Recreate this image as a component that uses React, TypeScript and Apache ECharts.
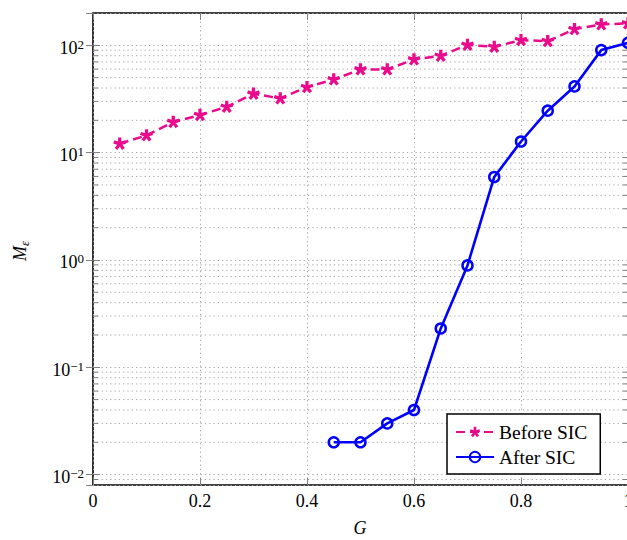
import React, { useEffect, useRef } from "react";
import * as echarts from "echarts";

// G values for each series
const gBefore = [0.05, 0.1, 0.15, 0.2, 0.25, 0.3, 0.35, 0.4, 0.45, 0.5, 0.55, 0.6, 0.65, 0.7, 0.75, 0.8, 0.85, 0.9, 0.95, 1.0];
const beforeSIC = [12.1, 14.5, 19.3, 22.4, 26.7, 35.4, 32.0, 40.8, 48.1, 59.6, 59.6, 73.9, 79.8, 101, 96.8, 111.8, 109.4, 141.5, 156.6, 160];

const gAfter = [0.45, 0.5, 0.55, 0.6, 0.65, 0.7, 0.75, 0.8, 0.85, 0.9, 0.95, 1.0];
const afterSIC = [0.02, 0.02, 0.03, 0.04, 0.23, 0.89, 5.93, 12.7, 24.6, 41.4, 90.2, 105.5];

// axis ranges
const xMin = 0;
const xMax = 1;
const xStep = 0.2;
const yMin = 0.008;
const yMax = 200;

// minor log grid: mantissas 2..9 in every decade inside the range
const minorMantissas = [2, 3, 4, 5, 6, 7, 8, 9];
const decades = [0.001, 0.01, 0.1, 1, 10, 100];

const PINK = "#ea0a8c";
const BLUE = "#0000ff";
const SERIF = "'Liberation Serif', 'Times New Roman', serif";
const GRID_COLOR = "#a8a8a8";
const TICK_COLOR = "#808080";

const minorValues: number[] = [];
decades.forEach((d) =>
  minorMantissas.forEach((m) => {
    const v = +(m * d).toPrecision(3);
    if (v > yMin && v < yMax) minorValues.push(v);
  })
);

// five-armed asterisk marker
function asteriskPath(arms: number, halfWidth: number): string {
  let d = "";
  for (let i = 0; i < arms; i++) {
    const a = -Math.PI / 2 + (i * 2 * Math.PI) / arms;
    const dx = Math.cos(a);
    const dy = Math.sin(a);
    const nx = -dy * halfWidth;
    const ny = dx * halfWidth;
    const pts = [
      [nx, ny],
      [dx + nx, dy + ny],
      [dx - nx, dy - ny],
      [-nx, -ny],
    ];
    d += "M " + pts.map((p) => p.map((v) => (v * 10 + 10).toFixed(3)).join(" ")).join(" L ") + " Z ";
  }
  return "path://" + d;
}

function powLabel(v: number): string {
  const k = Math.round(Math.log10(v));
  const exp = k < 0 ? "\u2212" + -k : String(k);
  return `{b|10}{s|${exp}}`;
}

export default function App() {
  const ref = useRef<HTMLDivElement>(null);

  useEffect(() => {
    if (!ref.current) return;
    const chart = echarts.init(ref.current, undefined, { renderer: "svg" });
    const dotted = { color: GRID_COLOR, width: 1, type: [1.3, 3] as number[] };

    chart.setOption({
      animation: false,
      backgroundColor: "#fff",
      grid: {
        show: true,
        left: 93,
        top: 13,
        width: 535,
        height: 472,
        borderColor: "#000",
        borderWidth: 1.6,
        backgroundColor: "transparent",
      },
      legend: {
        data: ["Before SIC", "After SIC"],
        orient: "vertical",
        left: 447,
        top: 414,
        padding: [8, 13, 7, 8],
        itemWidth: 38,
        itemHeight: 13,
        itemGap: 5,
        borderColor: "#000",
        borderWidth: 1.5,
        borderRadius: 0,
        backgroundColor: "#fff",
        textStyle: { fontFamily: SERIF, fontSize: 19.5, color: "#000" },
      },
      xAxis: [
        {
          type: "value",
          min: xMin,
          max: xMax,
          interval: xStep,
          position: "bottom",
          axisLine: { show: false },
          axisTick: { show: true, inside: true, length: 7, lineStyle: { color: TICK_COLOR } },
          axisLabel: { margin: 7, fontFamily: SERIF, fontSize: 18, color: "#000" },
          splitLine: { show: true, lineStyle: dotted },
        },
        {
          type: "value",
          min: xMin,
          max: xMax,
          interval: xStep,
          position: "top",
          axisLine: { show: false },
          axisTick: { show: true, inside: true, length: 7, lineStyle: { color: TICK_COLOR } },
          axisLabel: { show: false },
          splitLine: { show: false },
        },
      ],
      yAxis: [
        {
          type: "log",
          logBase: 10,
          min: yMin,
          max: yMax,
          position: "left",
          axisLine: { show: false },
          axisTick: { show: true, inside: true, length: 7, lineStyle: { color: TICK_COLOR } },
          axisLabel: {
            showMinLabel: false,
            showMaxLabel: false,
            margin: 9,
            padding: [5, 0, 0, 0],
            formatter: powLabel,
            rich: {
              b: { fontFamily: SERIF, fontSize: 18, lineHeight: 20, color: "#000", verticalAlign: "middle" },
              s: { fontFamily: SERIF, fontSize: 13, lineHeight: 13, color: "#000", verticalAlign: "top" },
            },
          },
          splitLine: { show: true, lineStyle: dotted },
        },
        {
          type: "log",
          logBase: 10,
          min: yMin,
          max: yMax,
          position: "right",
          axisLine: { show: false },
          axisTick: { show: true, inside: true, length: 7, lineStyle: { color: TICK_COLOR } },
          axisLabel: { show: false },
          splitLine: { show: false },
        },
      ],
      graphic: [
        {
          type: "text",
          x: 20,
          y: 251,
          rotation: Math.PI / 2,
          style: {
            text: "{m|M}{e|\u03b5}",
            align: "center",
            verticalAlign: "middle",
            rich: {
              m: { fontFamily: SERIF, fontStyle: "italic", fontSize: 18, lineHeight: 22, fill: "#000", verticalAlign: "middle" },
              e: { fontFamily: SERIF, fontStyle: "italic", fontSize: 13, lineHeight: 13, fill: "#000", verticalAlign: "bottom" },
            },
          },
        },
        {
          type: "text",
          x: 360,
          y: 528,
          style: {
            text: "G",
            fontFamily: SERIF,
            fontStyle: "italic",
            fontSize: 18,
            fill: "#000",
            align: "center",
            verticalAlign: "middle",
          },
        },
      ],
      series: [
        {
          name: "minor grid",
          type: "custom",
          xAxisIndex: 0,
          yAxisIndex: 0,
          silent: true,
          z: 1,
          data: minorValues.map((v) => [xMin, v]),
          encode: { x: 0, y: 1 },
          renderItem: (params: any, api: any) => {
            const cs = params.coordSys;
            const p = api.coord([xMin, api.value(1)]);
            const y = p[1];
            const x0 = cs.x;
            const x1 = cs.x + cs.width;
            return {
              type: "group",
              children: [
                {
                  type: "line",
                  shape: { x1: x0, y1: y, x2: x1, y2: y },
                  style: { stroke: GRID_COLOR, lineWidth: 1, lineDash: [1.3, 3] },
                },
                {
                  type: "line",
                  shape: { x1: x0, y1: y, x2: x0 + 5, y2: y },
                  style: { stroke: TICK_COLOR, lineWidth: 1 },
                },
                {
                  type: "line",
                  shape: { x1: x1 - 5, y1: y, x2: x1, y2: y },
                  style: { stroke: TICK_COLOR, lineWidth: 1 },
                },
              ],
            };
          },
        },
        {
          name: "Before SIC",
          type: "line",
          z: 3,
          data: gBefore.map((g, i) => [g, beforeSIC[i]]),
          symbol: asteriskPath(5, 0.26),
          symbolSize: 13,
          symbolKeepAspect: true,
          lineStyle: { color: PINK, width: 2.5, type: [9, 5] },
          itemStyle: { color: PINK, borderWidth: 0 },
        },
        {
          name: "After SIC",
          type: "line",
          z: 4,
          data: gAfter.map((g, i) => [g, afterSIC[i]]),
          symbol: "circle",
          symbolSize: 10,
          lineStyle: { color: BLUE, width: 2.6 },
          itemStyle: { color: "rgba(0,0,0,0)", borderColor: BLUE, borderWidth: 2.5 },
        },
      ],
    });

    return () => chart.dispose();
  }, []);

  return (
    <div style={{ position: "fixed", left: 0, top: 0, width: 627, height: 540, overflow: "hidden", background: "#fff" }}>
      <div ref={ref} style={{ width: 660, height: 540 }} />
    </div>
  );
}
